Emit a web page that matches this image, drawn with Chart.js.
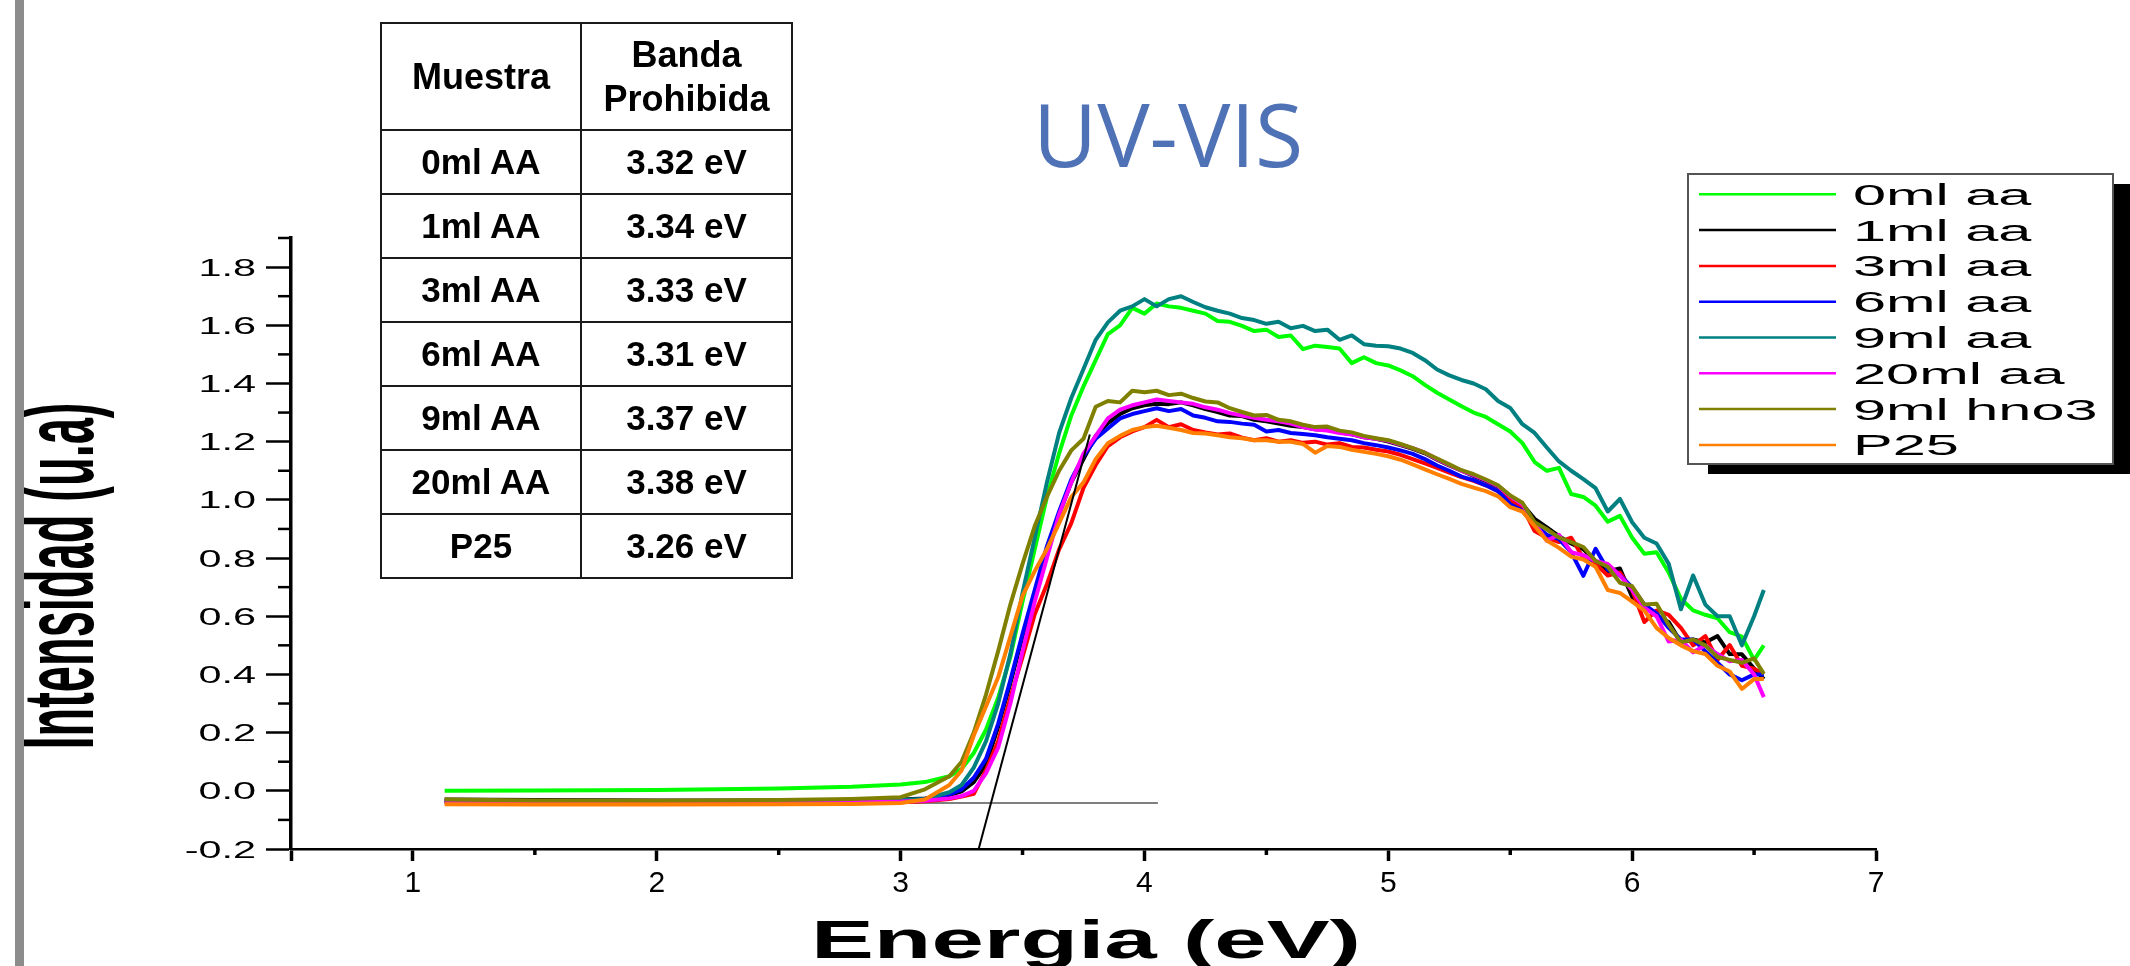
<!DOCTYPE html>
<html>
<head>
<meta charset="utf-8">
<script src="https://cdn.jsdelivr.net/npm/chart.js@4.4.1/dist/chart.umd.min.js"></script>
<style>
  html, body { margin: 0; padding: 0; background: #fff; }
  #wrap { position: relative; width: 2130px; height: 966px; overflow: hidden; }
  #uv { position: absolute; left: 0; top: 0; }
  #bar { position: absolute; left: 15px; top: 0; width: 9px; height: 966px; background: #8c8c8c; }
  #gap { position: absolute; left: 380px; top: 22px; border-collapse: collapse;
         font: bold 35px "Liberation Sans", Arial, sans-serif; color: #000; text-align: center; }
  #gap th, #gap td { border: 2px solid #1a1a1a; padding: 0; }
  #gap th { font-size: 36px; line-height: 44px; }
  #gap tr.head { height: 107px; }
  #gap tr.row { height: 64px; }
  #gap .c1 { width: 198px; }
  #gap .c2 { width: 209px; }
</style>
</head>
<body>
<div id="wrap">
  <canvas id="uv" width="2130" height="966"></canvas>
  <div id="bar"></div>
  <table id="gap"></table>
</div>
<script>
// Band gap table (values as printed in the figure)
const muestras = ['0ml AA', '1ml AA', '3ml AA', '6ml AA', '9ml AA', '20ml AA', 'P25'];
const bandaProhibida = [3.32, 3.34, 3.33, 3.31, 3.37, 3.38, 3.26];

// Spectra: shared energy grid (eV) and one intensity array per sample
const energia = [1.13, 1.5, 2.0, 2.5, 2.8, 3.0, 3.1, 3.2,
  3.25, 3.3, 3.35, 3.4, 3.45, 3.5, 3.55, 3.6, 3.65, 3.7, 3.75, 3.8, 3.85, 3.9, 3.95, 4.0, 4.05, 4.1, 4.15, 4.2,
  4.25, 4.3, 4.35, 4.4, 4.45, 4.5, 4.55, 4.6, 4.65, 4.7, 4.75, 4.8, 4.85, 4.9, 4.95, 5.0, 5.05, 5.1, 5.15, 5.2, 5.25, 5.3, 5.35, 5.4,
  5.45, 5.5, 5.55, 5.6, 5.65, 5.7, 5.75, 5.8, 5.85, 5.9, 5.95, 6.0, 6.05, 6.1, 6.15, 6.2, 6.25, 6.3, 6.35, 6.4, 6.45, 6.5,
  6.54];

const aa0 = [0.000, 0.001, 0.003, 0.008, 0.014, 0.022, 0.030, 0.050,
  0.075, 0.130, 0.210, 0.320, 0.460, 0.650, 0.830, 1.010, 1.160, 1.290, 1.390, 1.480, 1.570, 1.600, 1.660, 1.640, 1.675, 1.665, 1.660, 1.650,
  1.640, 1.615, 1.612, 1.598, 1.580, 1.585, 1.560, 1.565, 1.518, 1.530, 1.525, 1.520, 1.470, 1.490, 1.470, 1.462, 1.445, 1.425, 1.395, 1.368, 1.345, 1.322, 1.300, 1.285,
  1.260, 1.235, 1.195, 1.130, 1.100, 1.110, 1.020, 1.010, 0.980, 0.925, 0.945, 0.870, 0.815, 0.820, 0.750, 0.660, 0.620, 0.605, 0.593, 0.545, 0.530, 0.450,
  0.500];
const aa1 = [-0.030, -0.032, -0.033, -0.033, -0.032, -0.030, -0.026, -0.015,
  -0.002, 0.030, 0.090, 0.220, 0.370, 0.530, 0.680, 0.831, 0.950, 1.060, 1.140, 1.220, 1.264, 1.295, 1.315, 1.325, 1.330, 1.329, 1.335, 1.325,
  1.312, 1.302, 1.290, 1.288, 1.275, 1.270, 1.262, 1.255, 1.250, 1.243, 1.240, 1.232, 1.225, 1.215, 1.210, 1.200, 1.188, 1.175, 1.160, 1.138, 1.118, 1.100, 1.082, 1.065,
  1.045, 1.012, 0.985, 0.935, 0.905, 0.875, 0.850, 0.830, 0.790, 0.755, 0.764, 0.666, 0.640, 0.600, 0.580, 0.510, 0.520, 0.510, 0.532, 0.470, 0.469, 0.420,
  0.384];
const aa3 = [-0.040, -0.041, -0.041, -0.041, -0.040, -0.039, -0.036, -0.028,
  -0.020, -0.010, 0.070, 0.170, 0.320, 0.460, 0.607, 0.710, 0.830, 0.920, 1.041, 1.120, 1.185, 1.215, 1.235, 1.250, 1.275, 1.250, 1.260, 1.240,
  1.232, 1.225, 1.228, 1.214, 1.205, 1.212, 1.200, 1.205, 1.196, 1.200, 1.190, 1.195, 1.182, 1.180, 1.172, 1.166, 1.155, 1.140, 1.125, 1.110, 1.094, 1.078, 1.065, 1.050,
  1.030, 0.995, 0.975, 0.893, 0.870, 0.855, 0.870, 0.800, 0.780, 0.740, 0.750, 0.690, 0.580, 0.620, 0.605, 0.560, 0.500, 0.532, 0.450, 0.501, 0.430, 0.420,
  0.400];
const aa6 = [-0.035, -0.036, -0.037, -0.037, -0.036, -0.034, -0.028, -0.012,
  0.005, 0.045, 0.110, 0.230, 0.380, 0.540, 0.690, 0.840, 0.960, 1.070, 1.150, 1.210, 1.245, 1.280, 1.295, 1.305, 1.315, 1.305, 1.312, 1.290,
  1.282, 1.270, 1.268, 1.262, 1.258, 1.235, 1.240, 1.230, 1.226, 1.222, 1.215, 1.210, 1.205, 1.195, 1.188, 1.180, 1.170, 1.158, 1.140, 1.118, 1.100, 1.080, 1.068, 1.050,
  1.030, 0.985, 0.963, 0.915, 0.880, 0.865, 0.820, 0.739, 0.832, 0.760, 0.740, 0.700, 0.640, 0.610, 0.560, 0.520, 0.520, 0.480, 0.440, 0.400, 0.380, 0.400,
  0.400];
const aa9 = [-0.035, -0.036, -0.036, -0.035, -0.034, -0.032, -0.028, -0.005,
  0.020, 0.080, 0.170, 0.300, 0.470, 0.680, 0.870, 1.060, 1.230, 1.350, 1.450, 1.550, 1.610, 1.650, 1.665, 1.690, 1.665, 1.690, 1.700, 1.680,
  1.662, 1.650, 1.640, 1.625, 1.618, 1.605, 1.612, 1.590, 1.598, 1.580, 1.585, 1.550, 1.565, 1.535, 1.530, 1.528, 1.520, 1.505, 1.480, 1.448, 1.428, 1.412, 1.400, 1.380,
  1.340, 1.316, 1.260, 1.230, 1.180, 1.132, 1.100, 1.071, 1.040, 0.960, 1.003, 0.923, 0.870, 0.850, 0.780, 0.624, 0.740, 0.640, 0.600, 0.600, 0.500, 0.600,
  0.690];
const aa20 = [-0.037, -0.038, -0.038, -0.038, -0.038, -0.037, -0.034, -0.026,
  -0.018, 0.000, 0.060, 0.148, 0.300, 0.480, 0.650, 0.800, 0.950, 1.060, 1.159, 1.220, 1.280, 1.310, 1.325, 1.335, 1.345, 1.340, 1.335, 1.330,
  1.318, 1.310, 1.298, 1.290, 1.282, 1.275, 1.270, 1.262, 1.250, 1.242, 1.238, 1.230, 1.225, 1.215, 1.210, 1.203, 1.190, 1.178, 1.162, 1.140, 1.120, 1.100, 1.085, 1.068,
  1.048, 1.012, 0.985, 0.920, 0.860, 0.880, 0.820, 0.810, 0.790, 0.780, 0.740, 0.690, 0.630, 0.600, 0.513, 0.520, 0.476, 0.500, 0.470, 0.445, 0.450, 0.400,
  0.322];
const hno3 = [-0.030, -0.033, -0.034, -0.032, -0.028, -0.022, 0.005, 0.050,
  0.100, 0.200, 0.330, 0.480, 0.640, 0.780, 0.910, 1.010, 1.100, 1.170, 1.210, 1.320, 1.340, 1.335, 1.375, 1.370, 1.375, 1.360, 1.365, 1.350,
  1.338, 1.335, 1.315, 1.302, 1.290, 1.292, 1.275, 1.270, 1.258, 1.250, 1.252, 1.238, 1.232, 1.220, 1.212, 1.205, 1.192, 1.178, 1.162, 1.142, 1.122, 1.102, 1.088, 1.070,
  1.050, 1.015, 0.990, 0.923, 0.899, 0.870, 0.855, 0.838, 0.790, 0.770, 0.715, 0.703, 0.640, 0.643, 0.570, 0.510, 0.520, 0.500, 0.460, 0.450, 0.440, 0.455,
  0.402];
const p25 = [-0.046, -0.047, -0.047, -0.046, -0.045, -0.042, -0.030, 0.020,
  0.070, 0.190, 0.290, 0.390, 0.530, 0.670, 0.755, 0.831, 0.920, 1.010, 1.060, 1.140, 1.195, 1.220, 1.240, 1.250, 1.255, 1.248, 1.240, 1.230,
  1.228, 1.222, 1.215, 1.212, 1.205, 1.205, 1.200, 1.200, 1.192, 1.162, 1.185, 1.182, 1.172, 1.165, 1.158, 1.150, 1.138, 1.122, 1.105, 1.088, 1.072, 1.055, 1.042, 1.030,
  1.012, 0.975, 0.960, 0.910, 0.860, 0.835, 0.805, 0.795, 0.770, 0.690, 0.680, 0.650, 0.619, 0.560, 0.525, 0.500, 0.480, 0.470, 0.430, 0.410, 0.350, 0.384,
  0.384];

// Construction lines used to read the gap
const baseE = [1.13, 4.055];
const baseV = [-0.042, -0.042];
const tanE = [3.32, 3.776];
const tanV = [-0.2, 1.225];

// Axis ticks
const xTicks = [1, 2, 3, 4, 5, 6, 7];
const xMinor = [1.5, 2.5, 3.5, 4.5, 5.5, 6.5];
const yTicks = [-0.2, 0.0, 0.2, 0.4, 0.6, 0.8, 1.0, 1.2, 1.4, 1.6, 1.8];
const yMinor = [-0.1, 0.1, 0.3, 0.5, 0.7, 0.9, 1.1, 1.3, 1.5, 1.7, 1.9];

const series = [
  { label: '0ml aa', color: '#00ff00', values: aa0 },
  { label: '1ml aa', color: '#000000', values: aa1 },
  { label: '3ml aa', color: '#ff0000', values: aa3 },
  { label: '6ml aa', color: '#0000ff', values: aa6 },
  { label: '9ml aa', color: '#008080', values: aa9 },
  { label: '20ml aa', color: '#ff00ff', values: aa20 },
  { label: '9ml hno3', color: '#808000', values: hno3 },
  { label: 'P25', color: '#ff8000', values: p25 },
];

// table
const tbl = document.getElementById('gap');
tbl.innerHTML = '<tr class="head"><th class="c1">Muestra</th><th class="c2">Banda<br>Prohibida</th></tr>' +
  muestras.map((m, i) => `<tr class="row"><td>${m}</td><td>${bandaProhibida[i].toFixed(2)} eV</td></tr>`).join('');

const SANS = '"Liberation Sans", Arial, sans-serif';

// text stretched sideways, like the pasted Origin graph
function wideText(ctx, str, x, y, font, sx, align) {
  ctx.save();
  ctx.font = font;
  ctx.textAlign = align;
  ctx.textBaseline = 'alphabetic';
  ctx.translate(x, y);
  ctx.scale(sx, 1);
  ctx.fillText(str, 0, 0);
  ctx.restore();
}

const originLook = {
  id: 'originLook',
  afterDraw(chart) {
    const { ctx, scales: { x, y } } = chart;
    ctx.save();
    ctx.strokeStyle = '#000';
    ctx.fillStyle = '#000';

    // minor ticks
    ctx.lineWidth = 2.5;
    yMinor.forEach(v => {
      const py = y.getPixelForValue(v);
      ctx.beginPath(); ctx.moveTo(x.left - 13, py); ctx.lineTo(x.left, py); ctx.stroke();
    });
    ctx.lineWidth = 3.5;
    xMinor.forEach(v => {
      const px = x.getPixelForValue(v);
      ctx.beginPath(); ctx.moveTo(px, y.bottom); ctx.lineTo(px, y.bottom + 6); ctx.stroke();
    });

    // tick labels
    yTicks.forEach(v => {
      wideText(ctx, v.toFixed(1), 256, y.getPixelForValue(v) + 8.5, `23px ${SANS}`, 1.8, 'right');
    });
    xTicks.forEach(v => {
      wideText(ctx, String(v), x.getPixelForValue(v), 892, `30px ${SANS}`, 1.0, 'center');
    });

    // x title
    ctx.font = `bold 54px ${SANS}`;
    const xt = 'Energia (eV)';
    wideText(ctx, xt, 1086, 958, ctx.font, 550 / ctx.measureText(xt).width, 'center');

    // y title (rotated, squeezed along its length)
    const yt = 'Intensidad (u.a)';
    ctx.save();
    ctx.font = `bold 60px ${SANS}`;
    const sx = 347 / ctx.measureText(yt).width;
    const sy = 72 / (0.716 * 60);
    ctx.translate(93, 576);
    ctx.rotate(-Math.PI / 2);
    ctx.scale(sx, sy);
    ctx.textAlign = 'center';
    ctx.fillText(yt, 0, 0);
    ctx.restore();

    // title
    ctx.font = '88px "Open Sans", sans-serif';
    ctx.fillStyle = '#4f72b6';
    ctx.textAlign = 'left';
    ctx.fillText('UV-VIS', 1033, 167);

    // legend box with drop shadow
    const L = 1688, T = 174, W = 425, H = 290;
    ctx.fillStyle = '#000';
    ctx.fillRect(L + 20, T + 10, W, H);
    ctx.fillStyle = '#fff';
    ctx.fillRect(L, T, W, H);
    ctx.strokeStyle = '#555';
    ctx.lineWidth = 2;
    ctx.strokeRect(L, T, W, H);
    chart.data.datasets.slice(0, series.length).forEach((ds, i) => {
      const ly = 194.3 + i * 35.8;
      ctx.strokeStyle = ds.borderColor;
      ctx.lineWidth = 2.5;
      ctx.beginPath(); ctx.moveTo(1699, ly); ctx.lineTo(1836, ly); ctx.stroke();
      ctx.fillStyle = '#000';
      wideText(ctx, ds.label, 1853, ly + 10.5, `29px ${SANS}`, 2.05, 'left');
    });
    ctx.restore();
  }
};

const datasets = series.map((s, i) => ({
  label: s.label,
  data: energia.map((e, k) => ({ x: e, y: s.values[k] })),
  borderColor: s.color,
  borderWidth: 4,
  borderJoinStyle: 'round',
  pointRadius: 0,
  tension: 0,
  order: series.length - i,
}));
datasets.push({
  label: 'tangente',
  data: tanE.map((e, k) => ({ x: e, y: tanV[k] })),
  borderColor: '#000', borderWidth: 2, pointRadius: 0, order: 0,
});
datasets.push({
  label: 'base',
  data: baseE.map((e, k) => ({ x: e, y: baseV[k] })),
  borderColor: '#555', borderWidth: 1.5, pointRadius: 0, order: 20,
});

new Chart(document.getElementById('uv'), {
  type: 'line',
  data: { datasets },
  plugins: [originLook],
  options: {
    responsive: false,
    animation: false,
    devicePixelRatio: 1,
    layout: { padding: { left: 0, right: 254, top: 238, bottom: 0 } },
    plugins: { legend: { display: false }, tooltip: { enabled: false } },
    scales: {
      x: {
        type: 'linear', min: 0.5, max: 7,
        afterFit: s => { s.height = 117; },
        ticks: { stepSize: 1, callback: () => '' },
        grid: { drawOnChartArea: false, tickLength: 12, tickWidth: 3.5, tickColor: '#000' },
        border: { color: '#000', width: 2.5 },
      },
      y: {
        type: 'linear', min: -0.2, max: 1.9,
        afterFit: s => { s.width = 291; },
        ticks: { stepSize: 0.2, includeBounds: false, callback: () => '' },
        grid: { drawOnChartArea: false, tickLength: 25, tickWidth: 2.5, tickColor: '#000' },
        border: { color: '#000', width: 3.5 },
      },
    },
  },
});
</script>
</body>
</html>
